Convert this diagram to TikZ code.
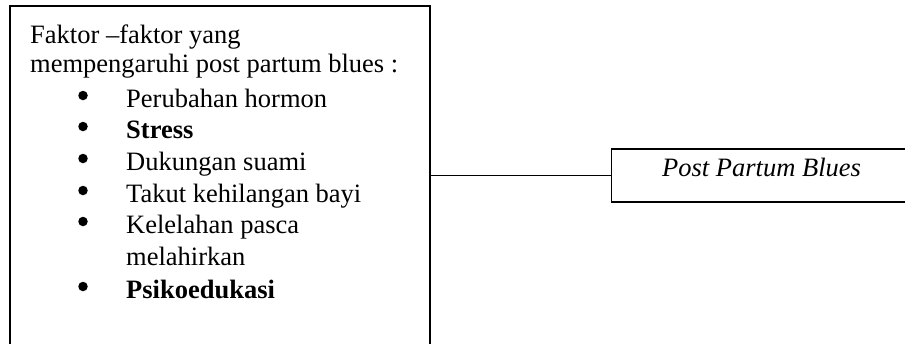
\documentclass[tikz,border=0pt]{standalone}
\usepackage{fontspec}
\setmainfont{Liberation Serif}
\begin{document}
\begin{tikzpicture}[x=1pt,y=-1pt,
  frame/.style={draw=black,line width=1.5pt,inner sep=0pt,anchor=north west},
  txt/.style={anchor=base west,inner sep=0pt,font=\fontsize{26.5}{32}\selectfont},
  dot/.style={circle,fill=black,inner sep=0pt,minimum size=9.5pt},
  link/.style={draw=black,line width=1.5pt}]
\useasboundingbox (0,0) rectangle (905,343);
\clip (0,0) rectangle (905,343);
% boxes
\node[frame,minimum width=420pt,minimum height=380pt] (factors) at (9,5) {};
\node[frame,minimum width=320pt,minimum height=53pt] (ppb) at (610.7,148) {};
\node[txt,font=\fontsize{26.5}{32}\selectfont\itshape] (ppbtext) at (662,176.5) {Post Partum Blues};
% connector between the two boxes
\draw[link] (ppb.west) -- (ppb.west -| factors.east);
% heading
\node[txt] (h1) at (30,43) {Faktor –faktor yang};
\node[txt] (h2) at (30,72) {mempengaruhi post partum blues :};
% bullet list
\foreach \y/\t [count=\i] in {107/{Perubahan hormon},138/{\bfseries Stress},170/{Dukungan suami},202/{Takut kehilangan bayi},233/{Kelelahan pasca},298/{\bfseries Psikoedukasi}}{
  \node[dot] (b\i) at (83,\y-11.5) {};
  \node[txt] (t\i) at (126,\y) {\t};
}
\node[txt] (t5b) at (126,265) {melahirkan};
\end{tikzpicture}
\end{document}
